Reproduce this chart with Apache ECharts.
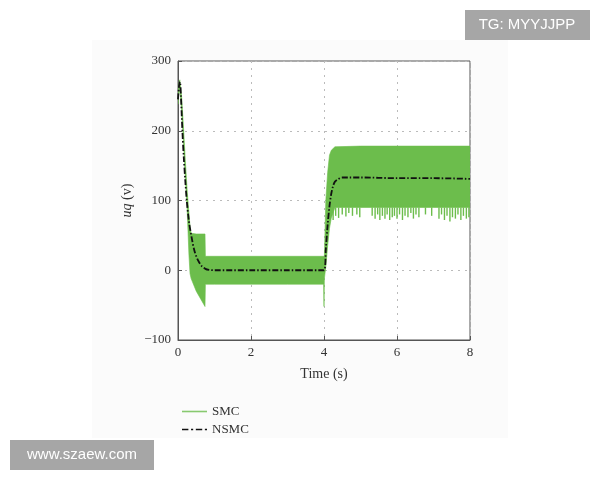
<!DOCTYPE html>
<html><head><meta charset="utf-8">
<script src="https://cdn.jsdelivr.net/npm/echarts@6/dist/echarts.min.js"></script>
<style>html,body{margin:0;padding:0;background:#fff}#c{width:600px;height:480px}</style>
</head><body><div id="c"></div>
<script>
// ---- data ----
var xTicks = [0, 2, 4, 6, 8];
var yTicks = [-100, 0, 100, 200, 300];
// SMC (chattering band) envelope
var smcT     = [0,   0.02, 0.05, 0.1, 0.15, 0.2, 0.25, 0.3, 0.33, 0.36, 0.5, 0.74, 0.75, 1, 2, 3, 3.99, 4.0, 4.01, 4.05, 4.1, 4.15, 4.2, 4.3, 5, 6, 7, 8];
var smcUpper = [255, 268,  273,  248, 205,  158, 115,  82,  62,   53,   52,  52,   20,   20, 20, 20, 20, 20, 20, 100, 140, 165, 172, 177, 178, 178, 178, 178];
var smcLower = [238, 252,  262,  228, 182,  132, 88,   22,  -5,   -12,  -30, -52,  -20,  -20, -20, -20, -20, -52, -12, 5, 35, 60, 75, 90, 90, 90, 90, 90];
// SMC downward chattering spikes below the band
var spikeT   = [4.25, 4.32, 4.4, 4.5, 4.6, 4.68, 4.78, 4.9, 4.98, 5.32, 5.4, 5.47, 5.53, 5.6, 5.67, 5.73, 5.8, 5.87, 5.93, 6.0, 6.07, 6.15, 6.22, 6.3, 6.38, 6.45, 6.52, 6.6, 6.78, 6.95, 7.15, 7.22, 7.3, 7.37, 7.45, 7.52, 7.6, 7.67, 7.75, 7.82, 7.9, 7.97];
var spikeLow = [72,   78,   75,  80,  77,  82,   78,   80,  76,   78,   74,  80,   72,   78,  74,   80,   72,  76,   78,   74,  80,   72,   78,   76,  82,   74,   80,   76,  80,   78,   74,   80,   72,  78,   70,   76,   74,  80,   72,   78,   74,  76];
var spikeTop = 90;
// NSMC
var nsmcT = [0,   0.03, 0.055, 0.08, 0.12, 0.16, 0.2, 0.24, 0.3, 0.37, 0.45, 0.55, 0.65, 0.75, 0.85, 1.0, 2, 3, 4.0, 4.05, 4.1, 4.15, 4.2, 4.25, 4.3, 4.4, 4.5, 4.7, 5, 6, 7, 8];
var nsmcV = [245, 265,  270,   250,  200,  160,  128, 100,  70,  48,   28,   14,   6,    2,    0.5,  0,   0, 0, 0,   30,   65,  92,   110, 121,  127, 131, 133, 133, 133, 132, 132, 131];

var GREEN = '#6cbd4c';
var SERIF = '"Liberation Serif","DejaVu Serif",serif';

var chart = echarts.init(document.getElementById('c'), null, {renderer: 'canvas'});
var bandData = smcT.map(function (t, i) { return [t, smcUpper[i], smcLower[i]]; });
var spikeData = spikeT.map(function (t, i) { return [t, spikeTop, spikeLow[i]]; });
var nsmcData = nsmcT.map(function (t, i) { return [t, nsmcV[i]]; });

chart.setOption({
  backgroundColor: '#fff',
  animation: false,
  graphic: [
    {type: 'rect', z: -10, shape: {x: 92, y: 40, width: 416, height: 398}, style: {fill: '#fbfbfb'}},
    {type: 'rect', z: 100, shape: {x: 465, y: 10, width: 125, height: 30}, style: {fill: '#a6a6a6'}},
    {type: 'text', z: 101, x: 527, y: 25, style: {text: 'TG: MYYJJPP', fill: '#fff', font: '15px "Liberation Sans", Arial, sans-serif', align: 'center', verticalAlign: 'middle'}},
    {type: 'rect', z: 100, shape: {x: 10, y: 440, width: 144, height: 30}, style: {fill: '#a6a6a6'}},
    {type: 'text', z: 101, x: 82, y: 455, style: {text: 'www.szaew.com', fill: '#fff', font: '15px "Liberation Sans", Arial, sans-serif', align: 'center', verticalAlign: 'middle'}}
  ],
  grid: {left: 178, right: 130, top: 61, bottom: 140, show: true, borderColor: '#555', borderWidth: 1, backgroundColor: '#fff'},
  legend: {
    orient: 'vertical', left: 177, top: 400, itemWidth: 25, itemHeight: 12, itemGap: 5,
    textStyle: {fontFamily: SERIF, fontSize: 13, color: '#333', padding: [0, 0, 0, 0]},
    data: [
      {name: 'SMC', icon: 'path://M0,0 L25,0 L25,1.6 L0,1.6 Z', itemStyle: {color: GREEN, opacity: 0.8}},
      {name: 'NSMC', icon: 'path://M0,0h6v1.5h-6z M8.5,0h2v1.5h-2z M13,0h6v1.5h-6z M21.5,0h2v1.5h-2z', itemStyle: {color: '#111'}}
    ]
  },
  xAxis: {
    type: 'value', min: 0, max: 8, interval: 2,
    name: 'Time (s)', nameLocation: 'middle', nameGap: 27,
    nameTextStyle: {fontFamily: SERIF, fontSize: 14, color: '#333'},
    axisLine: {show: true, onZero: false, lineStyle: {color: '#555'}},
    axisTick: {show: true, inside: true, length: 4, lineStyle: {color: '#555'}},
    axisLabel: {fontFamily: SERIF, fontSize: 13, color: '#333', margin: 6,
      formatter: function (v) { return xTicks.indexOf(v) >= 0 ? String(v) : ''; }},
    splitLine: {show: true, lineStyle: {color: '#bbb', type: [2, 5], width: 1}}
  },
  yAxis: {
    type: 'value', min: -100, max: 300, interval: 100,
    name: '{i|uq} (v)', nameLocation: 'middle', nameGap: 44,
    nameTextStyle: {fontFamily: SERIF, fontSize: 14, color: '#333',
      rich: {i: {fontFamily: SERIF, fontSize: 14, fontStyle: 'italic', color: '#333'}}},
    axisLine: {show: true, onZero: false, lineStyle: {color: '#555'}},
    axisTick: {show: true, inside: true, length: 4, lineStyle: {color: '#555'}},
    axisLabel: {fontFamily: SERIF, fontSize: 13, color: '#333', margin: 7,
      formatter: function (v) { return yTicks.indexOf(v) >= 0 ? String(v).replace('-', '\u2212') : ''; }},
    splitLine: {show: true, lineStyle: {color: '#bbb', type: [2, 5], width: 1}}
  },
  series: [
    {
      name: 'SMC', type: 'custom', z: 2, clip: true,
      itemStyle: {color: GREEN},
      data: bandData,
      renderItem: function (params, api) {
        if (params.dataIndex !== 0) return null;
        var up = [], lo = [];
        for (var i = 0; i < bandData.length; i++) {
          up.push(api.coord([bandData[i][0], bandData[i][1]]));
          lo.push(api.coord([bandData[i][0], bandData[i][2]]));
        }
        var pts = up.concat(lo.reverse());
        return {type: 'polygon', shape: {points: pts}, style: {fill: GREEN, stroke: GREEN, lineWidth: 0.6}};
      },
      encode: {x: 0, y: [1, 2]}
    },
    {
      name: 'SMC', type: 'custom', z: 2, clip: true,
      itemStyle: {color: GREEN},
      data: spikeData,
      renderItem: function (params, api) {
        var a = api.coord([api.value(0), api.value(1)]);
        var b = api.coord([api.value(0), api.value(2)]);
        return {type: 'line', shape: {x1: a[0], y1: a[1], x2: b[0], y2: b[1]}, style: {stroke: GREEN, lineWidth: 1.4}};
      },
      encode: {x: 0, y: [1, 2]}
    },
    {
      name: 'NSMC', type: 'line', z: 3, showSymbol: false, symbol: 'none', smooth: 0.3,
      data: nsmcData,
      lineStyle: {color: '#111', width: 1.8, type: [6, 2, 1.5, 2]},
      itemStyle: {color: '#111'}
    }
  ]
});
</script>
</body></html>
